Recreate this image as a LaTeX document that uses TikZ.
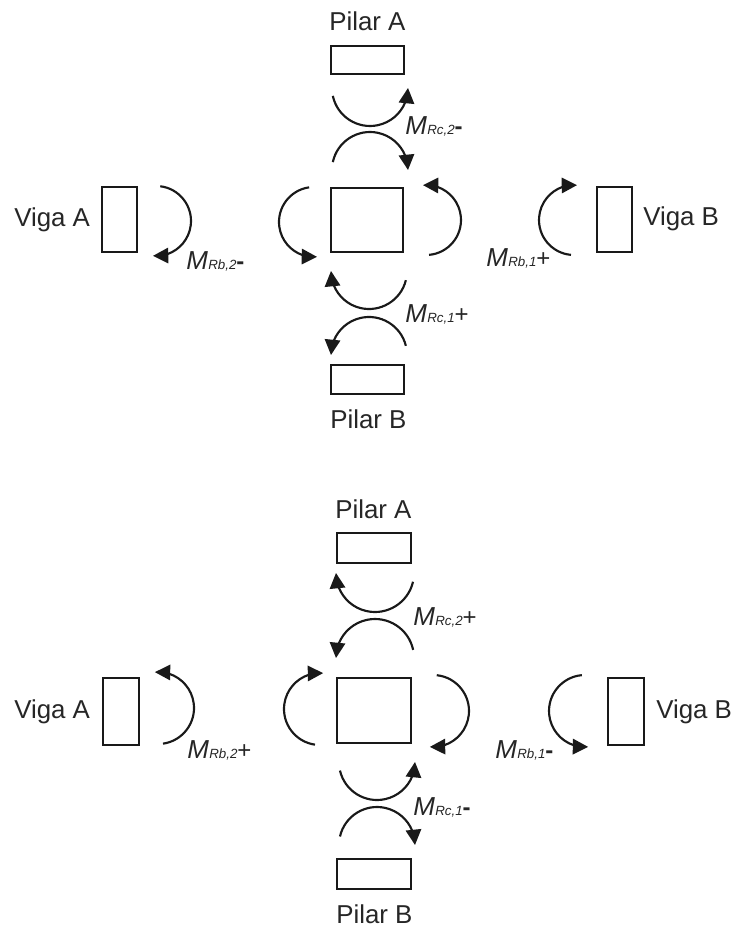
\documentclass[tikz,border=0pt]{standalone}
\usepackage{fontspec}
\setmainfont{Liberation Sans}
\usetikzlibrary{arrows.meta,bending}
\tikzset{
  member/.style={draw=black!90,line width=1.4pt,inner sep=0pt,minimum width=#1},
  nametext/.style={anchor=base west,inner sep=0pt,font=\fontsize{19.4}{20}\selectfont,text=black!85},
  moment/.style={draw=black!90,line width=1.6pt,-{Triangle[length=11.5pt,width=11.5pt,flex=0.5]}},
  momlabel/.style={anchor=base west,inner sep=0pt,text=black!85},
}
\newcommand{\momarc}[5]{%
  \coordinate (#1) at (#2);
  \draw[moment] ([shift={(#4:#3)}]#1) arc[start angle=#4,end angle=#5,radius=#3];}
\newcommand{\mtext}[2]{{\fontsize{19.5}{20}\selectfont\itshape M}{\fontsize{10}{12}\selectfont\itshape\kern0.3pt #1}{\fontsize{18}{20}\selectfont #2}}
\newcommand{\mminus}{\textbf{-}}
\begin{document}
\begin{tikzpicture}[x=0.75pt,y=-0.75pt]
\useasboundingbox (0,0) rectangle (735,927);
% upper panel
\node[member=54.75pt,minimum height=21pt] (pa1) at (367.5,60) {};
\node[member=54pt,minimum height=48pt] (n1) at (367,220) {};
\node[member=54.75pt,minimum height=21.75pt] (pb1) at (367.5,379.5) {};
\node[member=26.25pt,minimum height=48.75pt] (va1) at (119.5,219.5) {};
\node[member=26.25pt,minimum height=48.75pt] (vb1) at (614.5,219.5) {};
\node[nametext] (tpa1) at (329,31) {Pilar A};
\node[nametext] (tpb1) at (330,428) {Pilar B};
\node[nametext] (tva1) at (14,227) {Viga A};
\node[nametext] (tvb1) at (643,226) {Viga B};
\momarc{a1}{370,88}{38}{168}{0}
\momarc{a2}{370,170}{38}{192}{360}
\momarc{a3}{314,222}{35}{262}{85}
\momarc{a4}{426,220}{35}{85}{-95}
\momarc{a5}{156,221}{35}{-83}{95}
\momarc{a6}{574,220}{35}{95}{275}
\momarc{a7}{369,271}{38}{14}{180}
\momarc{a8}{369,355}{38}{-14}{-180}
\node[momlabel] (l1) at (405,135) {\mtext{Rc,2}{\mminus}};
\node[momlabel] (l2) at (186,269) {\mtext{Rb,2}{\mminus}};
\node[momlabel] (l3) at (486,266) {\mtext{Rb,1}{+}};
\node[momlabel] (l4) at (405,322) {\mtext{Rc,1}{+}};
% lower panel
\node[member=55.5pt,minimum height=22.5pt] (pa2) at (374,548) {};
\node[member=55.5pt,minimum height=48.75pt] (n2) at (374,710.5) {};
\node[member=55.5pt,minimum height=22.5pt] (pb2) at (374,874) {};
\node[member=27pt,minimum height=50.25pt] (va2) at (121,711.5) {};
\node[member=27pt,minimum height=50.25pt] (vb2) at (626,711.5) {};
\node[nametext] (tpa2) at (335,518) {Pilar A};
\node[nametext] (tpb2) at (336,923) {Pilar B};
\node[nametext] (tva2) at (14,718) {Viga A};
\node[nametext] (tvb2) at (656,718) {Viga B};
\momarc{b1}{375,573}{39}{13}{180}
\momarc{b2}{375,658}{39}{-12}{-180}
\momarc{b3}{320,709}{36}{98}{275}
\momarc{b4}{433,711}{36}{-84}{95}
\momarc{b5}{158,708}{36}{82}{-95}
\momarc{b6}{585,711}{36}{265}{85}
\momarc{b7}{377,762}{38}{167}{0}
\momarc{b8}{377,845}{38}{193}{360}
\node[momlabel] (l5) at (413,625) {\mtext{Rc,2}{+}};
\node[momlabel] (l6) at (187,758) {\mtext{Rb,2}{+}};
\node[momlabel] (l7) at (495,758) {\mtext{Rb,1}{\mminus}};
\node[momlabel] (l8) at (413,815) {\mtext{Rc,1}{\mminus}};
\end{tikzpicture}
\end{document}
